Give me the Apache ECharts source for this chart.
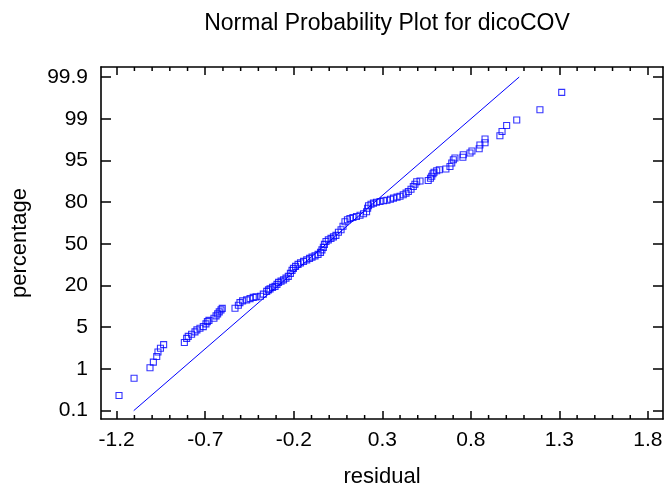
<!DOCTYPE html>
<html>
<head>
<meta charset="utf-8">
<script src="https://cdn.jsdelivr.net/npm/echarts@6/dist/echarts.min.js"></script>
<style>html,body{margin:0;padding:0;background:#fff;}#c{width:667px;height:493px;}</style>
</head>
<body>
<div id="c"></div>
<script>
// ---- data ----
var residuals = [-1.187,-1.102,-1.012,-0.993,-0.974,-0.967,-0.953,-0.935,-0.818,-0.805,
-0.796,-0.777,-0.758,-0.747,-0.730,-0.711,-0.696,-0.688,-0.679,-0.651,
-0.639,-0.630,-0.621,-0.611,-0.604,-0.532,-0.513,-0.504,-0.489,-0.466,
-0.447,-0.429,-0.413,-0.388,-0.372,-0.353,-0.343,-0.334,-0.320,-0.306,
-0.295,-0.286,-0.272,-0.258,-0.244,-0.231,-0.219,-0.210,-0.202,-0.190,
-0.176,-0.162,-0.145,-0.127,-0.111,-0.097,-0.080,-0.063,-0.049,-0.041,
-0.033,-0.027,-0.018,-0.005,0.010,0.024,0.038,0.052,0.067,0.078,
0.089,0.103,0.117,0.134,0.154,0.174,0.194,0.211,0.217,0.222,
0.236,0.250,0.267,0.287,0.307,0.326,0.346,0.363,0.383,0.400,
0.418,0.434,0.447,0.462,0.475,0.484,0.494,0.513,0.559,0.572,
0.579,0.586,0.592,0.607,0.622,0.659,0.682,0.692,0.701,0.710,
0.755,0.757,0.795,0.806,0.847,0.851,0.880,0.880,0.964,0.976,
1.002,1.059,1.190,1.313];
var probitPos = [-3.636,-3.223,-2.971,-2.837,-2.700,-2.592,-2.503,-2.417,-2.364,-2.268,
-2.220,-2.167,-2.112,-2.064,-2.023,-1.985,-1.920,-1.865,-1.836,-1.783,
-1.728,-1.680,-1.632,-1.584,-1.548,-1.543,-1.471,-1.409,-1.368,-1.344,
-1.313,-1.284,-1.272,-1.255,-1.207,-1.140,-1.104,-1.080,-1.044,-1.020,
-0.972,-0.924,-0.895,-0.864,-0.823,-0.780,-0.708,-0.636,-0.588,-0.540,
-0.492,-0.456,-0.420,-0.384,-0.348,-0.319,-0.288,-0.252,-0.204,-0.144,
-0.084,-0.012,0.055,0.096,0.132,0.168,0.204,0.276,0.336,0.420,
0.528,0.576,0.607,0.631,0.655,0.684,0.720,0.768,0.852,0.912,
0.948,0.977,0.996,1.015,1.032,1.044,1.068,1.097,1.121,1.140,
1.176,1.217,1.255,1.308,1.375,1.428,1.488,1.505,1.519,1.572,
1.620,1.680,1.716,1.752,1.776,1.793,1.855,1.937,2.016,2.057,
2.076,2.136,2.177,2.225,2.280,2.369,2.424,2.513,2.592,2.695,
2.837,2.971,3.216,3.631];
var refLineX = [-1.104, 1.073];
var refLineY = [-4, 4];
var xMajorTicks = [-1.2,-0.7,-0.2,0.3,0.8,1.3,1.8];
var xMinorTicks = [-1.1,-1.0,-0.9,-0.8,-0.6,-0.5,-0.4,-0.3,-0.1,0.0,0.1,0.2,0.4,0.5,0.6,0.7,0.9,1.0,1.1,1.2,1.4,1.5,1.6,1.7];
var yTickPos = [-4,-3,-2,-1,0,1,2,3,4];
var yTickLabels = ['0.1','1','5','20','50','80','95','99','99.9'];

var pts = residuals.map(function(r,i){return [r, probitPos[i]];});
var refPts = refLineX.map(function(x,i){return [x, refLineY[i]];});

var FONT = 'Liberation Sans, Arial, sans-serif';
var XMIN = -1.2887, XMAX = 1.885, YMIN = -4.2, YMAX = 4.24;
var axisLineStyle = {color:'#000', width:1.6};

var chart = echarts.init(document.getElementById('c'), null, {renderer:'canvas'});
chart.setOption({
  animation:false,
  backgroundColor:'#fff',
  title:{
    text:'Normal Probability Plot for dicoCOV',
    left:382, top:7, textAlign:'center',
    textStyle:{fontFamily:FONT, fontSize:23, fontWeight:'normal', color:'#000'}
  },
  grid:{left:101, right:4, top:67, bottom:74, outerBoundsMode:'none', containLabel:false},
  xAxis:[{
    type:'value', position:'bottom', min:XMIN, max:XMAX,
    name:'residual', nameLocation:'middle', nameGap:47,
    nameTextStyle:{fontFamily:FONT, fontSize:22, color:'#000'},
    axisLine:{show:true, onZero:false, lineStyle:axisLineStyle},
    axisTick:{show:true, inside:true, length:8, customValues:xMajorTicks, lineStyle:{color:'#000', width:1.5}},
    axisLabel:{show:true, customValues:xMajorTicks, margin:11, fontFamily:FONT, fontSize:21, color:'#000',
      formatter:function(v){return String(v);}},
    splitLine:{show:false}
  },{
    type:'value', position:'top', min:XMIN, max:XMAX,
    axisLine:{show:true, onZero:false, lineStyle:axisLineStyle},
    axisTick:{show:true, inside:true, length:8, customValues:xMajorTicks, lineStyle:{color:'#000', width:1.5}},
    axisLabel:{show:false},
    splitLine:{show:false}
  }],
  yAxis:[{
    type:'value', position:'left', min:YMIN, max:YMAX,
    name:'percentage', nameLocation:'middle', nameGap:70,
    nameTextStyle:{fontFamily:FONT, fontSize:22, color:'#000'},
    axisLine:{show:true, onZero:false, lineStyle:axisLineStyle},
    axisTick:{show:true, inside:true, length:10, customValues:yTickPos, lineStyle:{color:'#000', width:1.5}},
    axisLabel:{show:true, customValues:yTickPos, margin:13, fontFamily:FONT, fontSize:21, color:'#000',
      formatter:function(v){return yTickLabels[Math.round(v)+4];}},
    splitLine:{show:false}
  },{
    type:'value', position:'right', min:YMIN, max:YMAX,
    axisLine:{show:true, onZero:false, lineStyle:axisLineStyle},
    axisTick:{show:true, inside:true, length:10, customValues:yTickPos, lineStyle:{color:'#000', width:1.5}},
    axisLabel:{show:false},
    splitLine:{show:false}
  }],
  series:[{
    type:'line', data:refPts, symbol:'none', silent:true,
    lineStyle:{color:'#0000ff', width:1}
  },{
    type:'scatter', data:pts, symbol:'rect', symbolSize:6,
    itemStyle:{color:'rgba(0,0,0,0)', borderColor:'#0000ff', borderWidth:1.1}
  },{
    type:'custom', silent:true, clip:false,
    data:xMinorTicks.map(function(v){return [v, 0];}),
    renderItem:function(params, api){
      var cs = params.coordSys;
      var x = api.coord([api.value(0), 0])[0];
      var b = cs.y + cs.height, t = cs.y;
      return {type:'group', children:[
        {type:'line', shape:{x1:x,y1:b,x2:x,y2:b-4}, style:{stroke:'#000', lineWidth:1.5}},
        {type:'line', shape:{x1:x,y1:t,x2:x,y2:t+4}, style:{stroke:'#000', lineWidth:1.5}}
      ]};
    }
  }]
});
</script>
</body>
</html>
